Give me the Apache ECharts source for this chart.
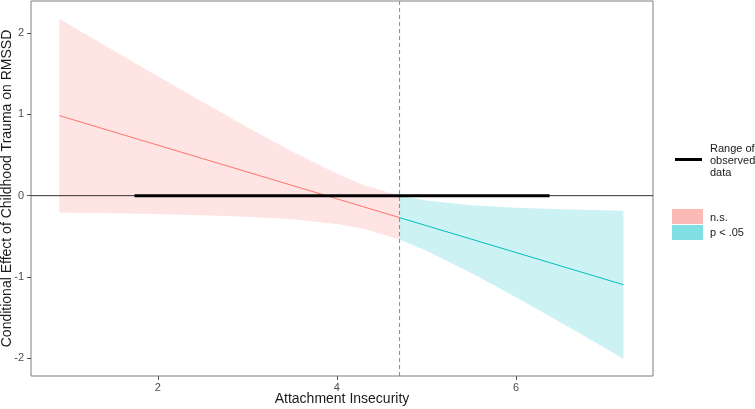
<!DOCTYPE html>
<html>
<head>
<meta charset="utf-8">
<script src="https://cdn.jsdelivr.net/npm/echarts@6/dist/echarts.min.js"></script>
<style>html,body{margin:0;padding:0;background:#fff;}#c{width:755px;height:409px;}</style>
</head>
<body>
<div id="c"></div>
<script>
// Values
var xNs   = [0.9, 1.5, 2.0, 2.5, 3.0, 3.5, 4.0, 4.3, 4.7];
var estNs = [0.984, 0.786, 0.621, 0.456, 0.291, 0.126, -0.039, -0.138, -0.270];
var upNs  = [2.174, 1.788, 1.469, 1.152, 0.841, 0.542, 0.269, 0.132, 0.000];
var loNs  = [-0.206, -0.216, -0.227, -0.240, -0.259, -0.290, -0.347, -0.408, -0.540];

var xSig   = [4.7, 5.0, 5.5, 6.0, 6.5, 7.2];
var estSig = [-0.270, -0.369, -0.534, -0.699, -0.864, -1.095];
var upSig  = [0.000, -0.061, -0.118, -0.149, -0.168, -0.186];
var loSig  = [-0.540, -0.677, -0.950, -1.249, -1.560, -2.004];

var observedRange = [1.74, 6.375];
var jnPoint = 4.7;
var xTicks = [2, 4, 6];
var yTicks = [-2, -1, 0, 1, 2];

var X_MIN = 0.584, X_MAX = 7.530, Y_MIN = -2.217, Y_MAX = 2.393;
var FONT = '"Liberation Sans", Arial, sans-serif';

function pairs(xs, ys) { return xs.map(function (x, i) { return [x, ys[i]]; }); }
function bandData(xs, up, lo) {
  var pts = [];
  for (var i = 0; i < xs.length; i++) pts.push([xs[i], up[i]]);
  for (var j = xs.length - 1; j >= 0; j--) pts.push([xs[j], lo[j]]);
  return pts;
}
function bandSeries(xs, up, lo, color) {
  var pts = bandData(xs, up, lo);
  return {
    type: 'custom',
    silent: true,
    z: 1,
    data: [[xs[0], up[0]]],
    renderItem: function (params, api) {
      var poly = pts.map(function (p) { return api.coord(p); });
      return { type: 'polygon', shape: { points: poly }, style: { fill: color } };
    }
  };
}

var chart = echarts.init(document.getElementById('c'), null, { renderer: 'canvas' });
chart.setOption({
  animation: false,
  backgroundColor: '#ffffff',
  grid: {
    left: 31, right: 102, top: 1, bottom: 33,
    containLabel: false, outerBoundsMode: 'none',
    show: true, borderColor: '#7f7f7f', borderWidth: 1, backgroundColor: 'transparent'
  },
  xAxis: {
    type: 'value', min: X_MIN, max: X_MAX,
    name: 'Attachment Insecurity', nameLocation: 'middle', nameGap: 16, nameMoveOverlap: false,
    nameTextStyle: { fontFamily: FONT, fontSize: 14, color: '#1a1a1a' },
    axisLine: { show: false, onZero: false },
    splitLine: { show: false },
    axisTick: { show: true, length: 4, lineStyle: { color: '#555' }, customValues: xTicks },
    axisLabel: { fontFamily: FONT, fontSize: 11, color: '#4d4d4d', margin: 6, customValues: xTicks }
  },
  yAxis: {
    type: 'value', min: Y_MIN, max: Y_MAX,
    name: 'Conditional Effect of Childhood Trauma on RMSSD', nameLocation: 'middle', nameGap: 17, nameRotate: 90, nameMoveOverlap: false,
    nameTextStyle: { fontFamily: FONT, fontSize: 14, color: '#1a1a1a' },
    axisLine: { show: false, onZero: false },
    splitLine: { show: false },
    axisTick: { show: true, length: 4, lineStyle: { color: '#555' }, customValues: yTicks },
    axisLabel: { fontFamily: FONT, fontSize: 11, color: '#4d4d4d', margin: 7, customValues: yTicks }
  },
  series: [
    bandSeries(xNs, upNs, loNs, 'rgba(248,118,109,0.2)'),
    bandSeries(xSig, upSig, loSig, 'rgba(0,191,196,0.2)'),
    {
      type: 'line', data: pairs(xNs, estNs), showSymbol: false, silent: true, z: 3,
      lineStyle: { color: '#F8766D', width: 1 }
    },
    {
      type: 'line', data: pairs(xSig, estSig), showSymbol: false, silent: true, z: 3,
      lineStyle: { color: '#00BFC4', width: 1 }
    },
    {
      type: 'line', data: [[jnPoint, Y_MIN], [jnPoint, Y_MAX]], showSymbol: false, silent: true, z: 3,
      lineStyle: { color: '#00BFC4', width: 1, type: [4, 3] }
    },
    {
      type: 'line', data: [[X_MIN, 0], [X_MAX, 0]], showSymbol: false, silent: true, z: 4,
      lineStyle: { color: '#333', width: 1 }
    },
    {
      type: 'line', data: [[observedRange[0], 0], [observedRange[1], 0]], showSymbol: false, silent: true, z: 5,
      lineStyle: { color: '#000', width: 3 }
    }
  ],
  graphic: [
    { type: 'line', shape: { x1: 675, y1: 159.5, x2: 702, y2: 159.5 }, style: { stroke: '#000', lineWidth: 3 } },
    { type: 'text', left: 710, top: 143, style: { text: 'Range of\nobserved\ndata', font: '11px ' + FONT, fill: '#1a1a1a', lineHeight: 12 } },
    { type: 'rect', shape: { x: 672, y: 209, width: 31, height: 15 }, style: { fill: '#FBBAB6' } },
    { type: 'rect', shape: { x: 672, y: 225, width: 31, height: 15 }, style: { fill: '#80DFE1' } },
    { type: 'text', left: 710, top: 212, style: { text: 'n.s.', font: '11px ' + FONT, fill: '#1a1a1a' } },
    { type: 'text', left: 710, top: 227, style: { text: 'p < .05', font: '11px ' + FONT, fill: '#1a1a1a' } }
  ]
});
</script>
</body>
</html>
